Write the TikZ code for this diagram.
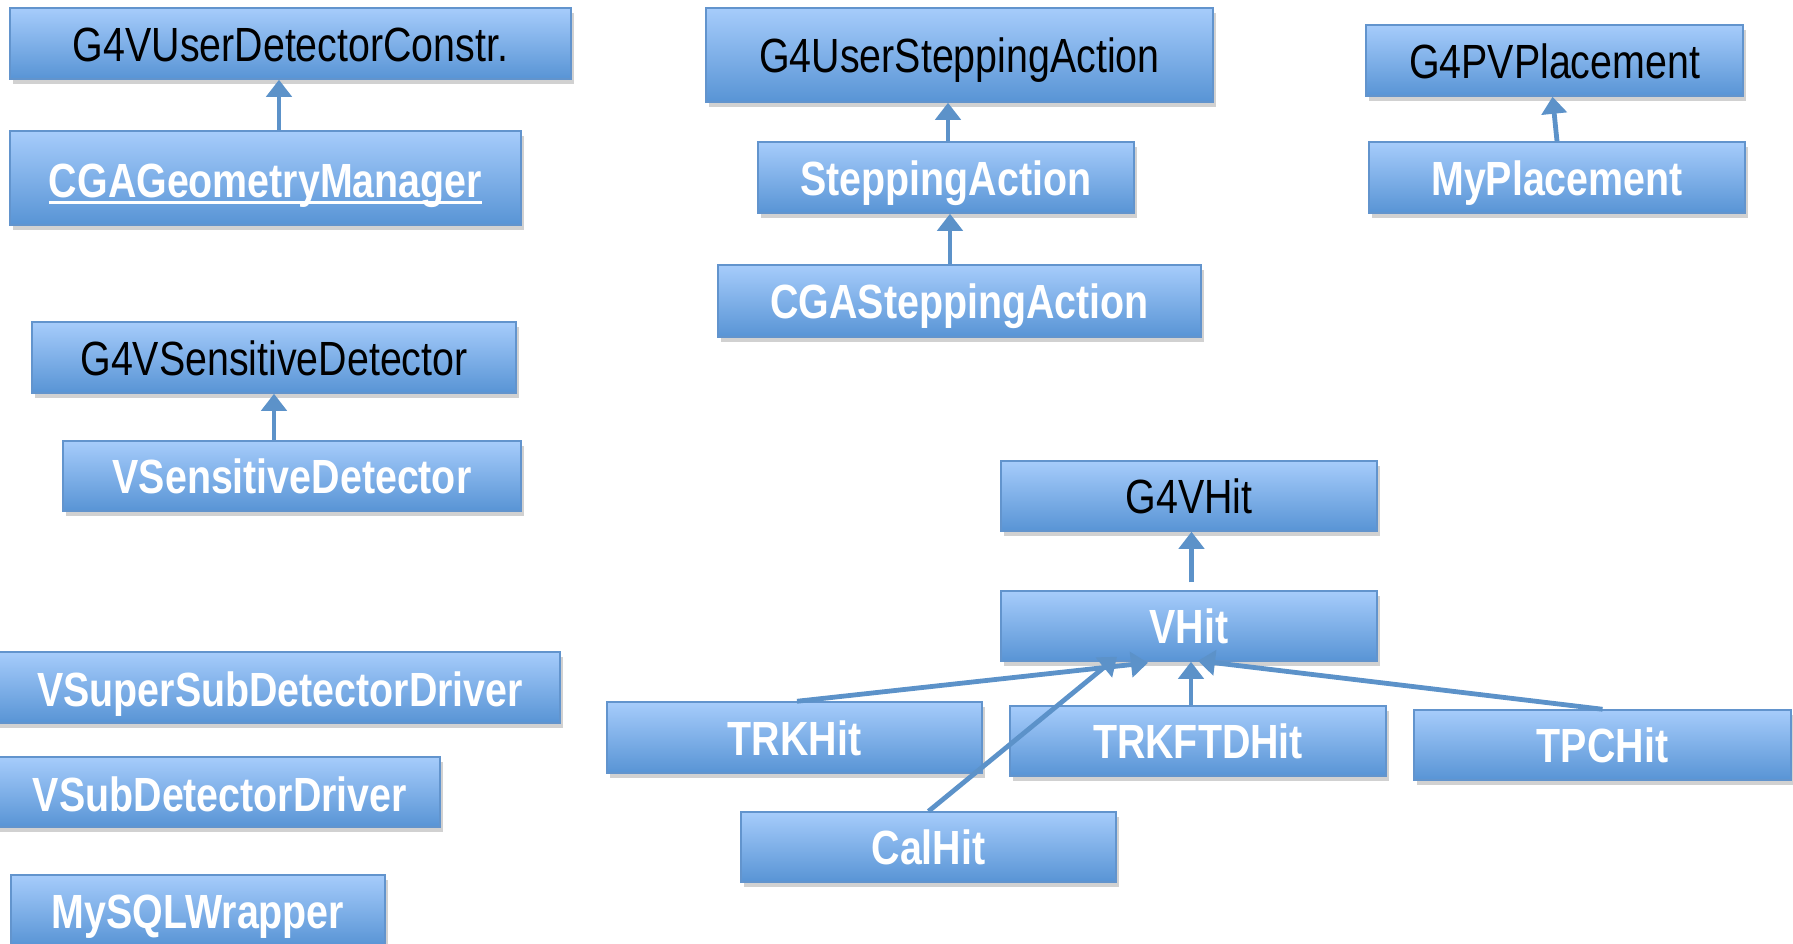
\documentclass[tikz,border=0pt]{standalone}
\usepackage{fontspec}
\setmainfont{Liberation Sans}[FakeStretch=0.82]
\usetikzlibrary{shadows,arrows.meta}
\definecolor{boxtop}{RGB}{166,204,251}
\definecolor{boxbot}{RGB}{88,148,213}
\definecolor{boxline}{RGB}{98,148,205}
\definecolor{arrcol}{RGB}{92,146,201}
\tikzset{
  box/.style={draw=boxline, line width=1.5pt, top color=boxtop, bottom color=boxbot,
    drop shadow={shadow xshift=3pt, shadow yshift=-5pt, opacity=0.3, fill=black!60},
    inner sep=0pt, text height=35pt, text depth=0pt, font=\fontsize{48}{56}\selectfont},
  plain/.style={box, text=black},
  bold/.style={box, text=white, font=\fontsize{48}{56}\selectfont\bfseries},
  lbl/.style={inner sep=0pt, text height=35pt, text depth=0pt, text=white, font=\fontsize{48}{56}\selectfont\bfseries},
  uline/.style={draw=white, line width=2.8pt},
  arr/.style={draw=arrcol, line width=4.8pt, -{Triangle[width=25pt,length=17pt]}, arrcol}
}
\begin{document}
\begin{tikzpicture}[x=1pt,y=-1pt]
\useasboundingbox (0,0) rectangle (1793,943);
% left column
\node[plain, minimum width=561pt, minimum height=71pt] (g4udc) at (290.5,43.5) {G4VUserDetectorConstr.};
\node[bold, minimum width=511pt, minimum height=94pt] (cgageo) at (265.5,178) {};
\node[lbl] (cgat) at (265.5,180) {CGAGeometryManager};
\draw[uline] ([yshift=-5pt]cgat.south west) -- ([yshift=-5pt]cgat.south east);
\node[plain, minimum width=484pt, minimum height=71pt] (g4sd) at (274,357.5) {G4VSensitiveDetector};
\node[bold, minimum width=458pt, minimum height=70pt] (vsd) at (292,476) {VSensitiveDetector};
\node[bold, minimum width=565pt, minimum height=71pt] (vsuper) at (277.5,687.5) {};
\node[lbl] (vsupert) at (280,689) {VSuperSubDetectorDriver};
\node[bold, minimum width=445pt, minimum height=70pt] (vsub) at (217.5,792) {};
\node[lbl] (vsubt) at (220,794) {VSubDetectorDriver};
\node[bold, minimum width=374pt, minimum height=71pt] (mysql) at (198,910.5) {MySQLWrapper};
% stepping
\node[plain, minimum width=507pt, minimum height=94pt] (g4usa) at (959.5,55) {G4UserSteppingAction};
\node[bold, minimum width=376pt, minimum height=71pt] (stepact) at (946,177.5) {SteppingAction};
\node[bold, minimum width=483pt, minimum height=72pt] (cgastep) at (959.5,301) {CGASteppingAction};
% placement
\node[plain, minimum width=377pt, minimum height=71pt] (g4pvp) at (1554.5,60.5) {G4PVPlacement};
\node[bold, minimum width=376pt, minimum height=71pt] (myplac) at (1557,177.5) {MyPlacement};
% hits
\node[plain, minimum width=376pt, minimum height=70pt] (g4vhit) at (1189,496) {G4VHit};
\node[bold, minimum width=376pt, minimum height=70pt] (vhit) at (1189,626) {VHit};
\node[bold, minimum width=375pt, minimum height=71pt] (trkhit) at (794.5,737.5) {TRKHit};
\node[bold, minimum width=376pt, minimum height=70pt] (trkftd) at (1198,741) {TRKFTDHit};
\node[bold, minimum width=377pt, minimum height=70pt] (tpchit) at (1602.5,745) {TPCHit};
\node[bold, minimum width=375pt, minimum height=70pt] (calhit) at (928.5,847) {CalHit};
% arrows
\draw[arr] ([xshift=13.5pt]cgageo.north) -- ([xshift=13.5pt]cgageo.north |- g4udc.south);
\draw[arr] ([xshift=-18pt]vsd.north) -- ([xshift=-18pt]vsd.north |- g4sd.south);
\draw[arr] ([xshift=2pt]stepact.north) -- ([xshift=2pt]stepact.north |- g4usa.south);
\draw[arr] ([xshift=-9.5pt]cgastep.north) -- ([xshift=-9.5pt]cgastep.north |- stepact.south);
\draw[arr] (myplac.north) -- ([xshift=-2pt]g4pvp.south);
\draw[arr] ([xshift=2.5pt,yshift=8pt]vhit.north) -- ([xshift=2.5pt]g4vhit.south);
\draw[arr] ([xshift=-7pt]trkftd.north) -- ([xshift=-7pt]trkftd.north |- vhit.south);
\draw[arr] ([xshift=2.5pt]trkhit.north) -- ([xshift=-41pt,yshift=-1pt]vhit.south);
\draw[arr] (calhit.north) -- ([xshift=-72pt,yshift=5pt]vhit.south);
\draw[arr] (tpchit.north) -- ([xshift=9pt,yshift=1pt]vhit.south);
\end{tikzpicture}
\end{document}
